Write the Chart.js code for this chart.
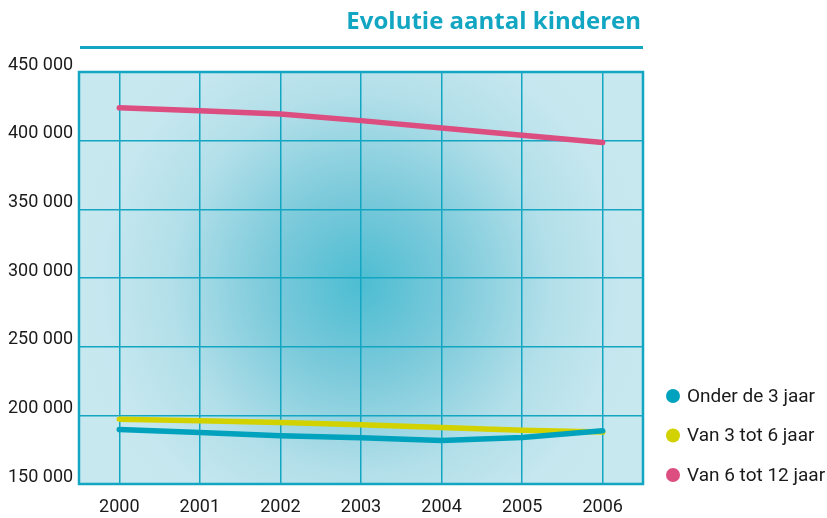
<!DOCTYPE html>
<html>
<head>
<meta charset="utf-8">
<script src="https://cdn.jsdelivr.net/npm/chart.js@4"></script>
<style>
  html, body { margin: 0; padding: 0; background: #fff; }
  #wrap { width: 827px; height: 518px; position: relative; }
</style>
</head>
<body>
<div id="wrap"><canvas id="kinderenChart"></canvas></div>
<script>
// Data
const years = ["2000", "2001", "2002", "2003", "2004", "2005", "2006"];
const onder3 = [189700, 187500, 185100, 183600, 181700, 183800, 188700];
const van3tot6 = [197200, 196000, 194800, 193100, 191200, 189200, 187800];
const van6tot12 = [423900, 421700, 419500, 414600, 409300, 404000, 398600];
const seriesNames = ["Onder de 3 jaar", "Van 3 tot 6 jaar", "Van 6 tot 12 jaar"];
const seriesColors = ["#00a2bd", "#d2d200", "#dc4d80"];
const titleText = "Evolutie aantal kinderen";

const teal = "#12a6c2";
const fontName = "'Roboto', sans-serif";

// Background gradient, frame, title and legend
const decorPlugin = {
    id: "decor",
    beforeDatasetsDraw(chart) {
        const { ctx, chartArea: a } = chart;
        ctx.save();
        ctx.strokeStyle = teal;
        ctx.lineWidth = 2.5;
        ctx.strokeRect(a.left, a.top, a.right - a.left, a.bottom - a.top);
        ctx.restore();
    },
    beforeDraw(chart) {
        const { ctx, chartArea: a } = chart;
        ctx.save();
        const cx = (a.left + a.right) / 2;
        const cy = (a.top + a.bottom) / 2 + 6;
        const g = ctx.createRadialGradient(cx, cy, 0, cx, cy, 290);
        g.addColorStop(0, "#4dbdd2");
        g.addColorStop(0.3, "#79c9da");
        g.addColorStop(0.65, "#b2dfe9");
        g.addColorStop(0.9, "#c6e7ef");
        g.addColorStop(1, "#c8e8ef");
        ctx.fillStyle = g;
        ctx.fillRect(a.left, a.top, a.right - a.left, a.bottom - a.top);

        // title + rule
        ctx.fillStyle = teal;
        ctx.font = "bold 24px 'Open Sans', sans-serif";
        ctx.textAlign = "right";
        ctx.textBaseline = "middle";
        ctx.fillText(titleText, a.right - 2, 22);
        ctx.fillRect(80, 46, a.right - 80, 3);
        ctx.restore();
    },
    afterDraw(chart) {
        const { ctx } = chart;
        ctx.save();
        ctx.font = "19px " + fontName;
        ctx.textBaseline = "middle";
        ctx.textAlign = "left";
        chart.data.datasets.forEach((ds, i) => {
            const y = 396 + i * 39.5;
            ctx.fillStyle = ds.borderColor;
            ctx.beginPath();
            ctx.arc(673, y, 7, 0, Math.PI * 2);
            ctx.fill();
            ctx.fillStyle = "#1a1a1a";
            ctx.fillText(ds.label, 687, y + 1);
        });
        ctx.restore();
    }
};

const ctx = document.getElementById("kinderenChart").getContext("2d");
const datasets = [onder3, van3tot6, van6tot12].map((vals, i) => ({
    label: seriesNames[i],
    data: vals,
    borderColor: seriesColors[i],
    backgroundColor: seriesColors[i],
    borderWidth: 5.5,
    pointRadius: 0,
    tension: 0,
    borderCapStyle: "round"
}));
// blue drawn on top at the 2006 crossing
datasets[0].order = 0;
datasets[1].order = 1;
datasets[2].order = 2;

new Chart(ctx, {
    type: "line",
    data: { labels: years, datasets: datasets },
    options: {
        responsive: true,
        maintainAspectRatio: false,
        animation: false,
        layout: { padding: { left: 8, top: 72, right: 184, bottom: 0 } },
        plugins: {
            legend: { display: false },
            tooltip: { enabled: false }
        },
        scales: {
            x: {
                offset: true,
                grid: { offset: false, color: teal, lineWidth: 1.5, drawTicks: false },
                border: { display: false },
                ticks: {
                    color: "#1a1a1a",
                    font: { family: fontName, size: 18 },
                    padding: 13,
                    maxRotation: 0
                },
                afterFit(scale) { scale.height = 34; }
            },
            y: {
                min: 150000,
                max: 450000,
                grid: { color: teal, lineWidth: 1.5, drawTicks: false },
                border: { display: false },
                ticks: {
                    stepSize: 50000,
                    crossAlign: "far",
                    labelOffset: -7,
                    color: "#1a1a1a",
                    font: { family: fontName, size: 18 },
                    callback: v => String(v).replace(/\B(?=(\d{3})+(?!\d))/g, " ")
                },
                afterFit(scale) { scale.width = 71; }
            }
        }
    },
    plugins: [decorPlugin]
});
</script>
</body>
</html>
